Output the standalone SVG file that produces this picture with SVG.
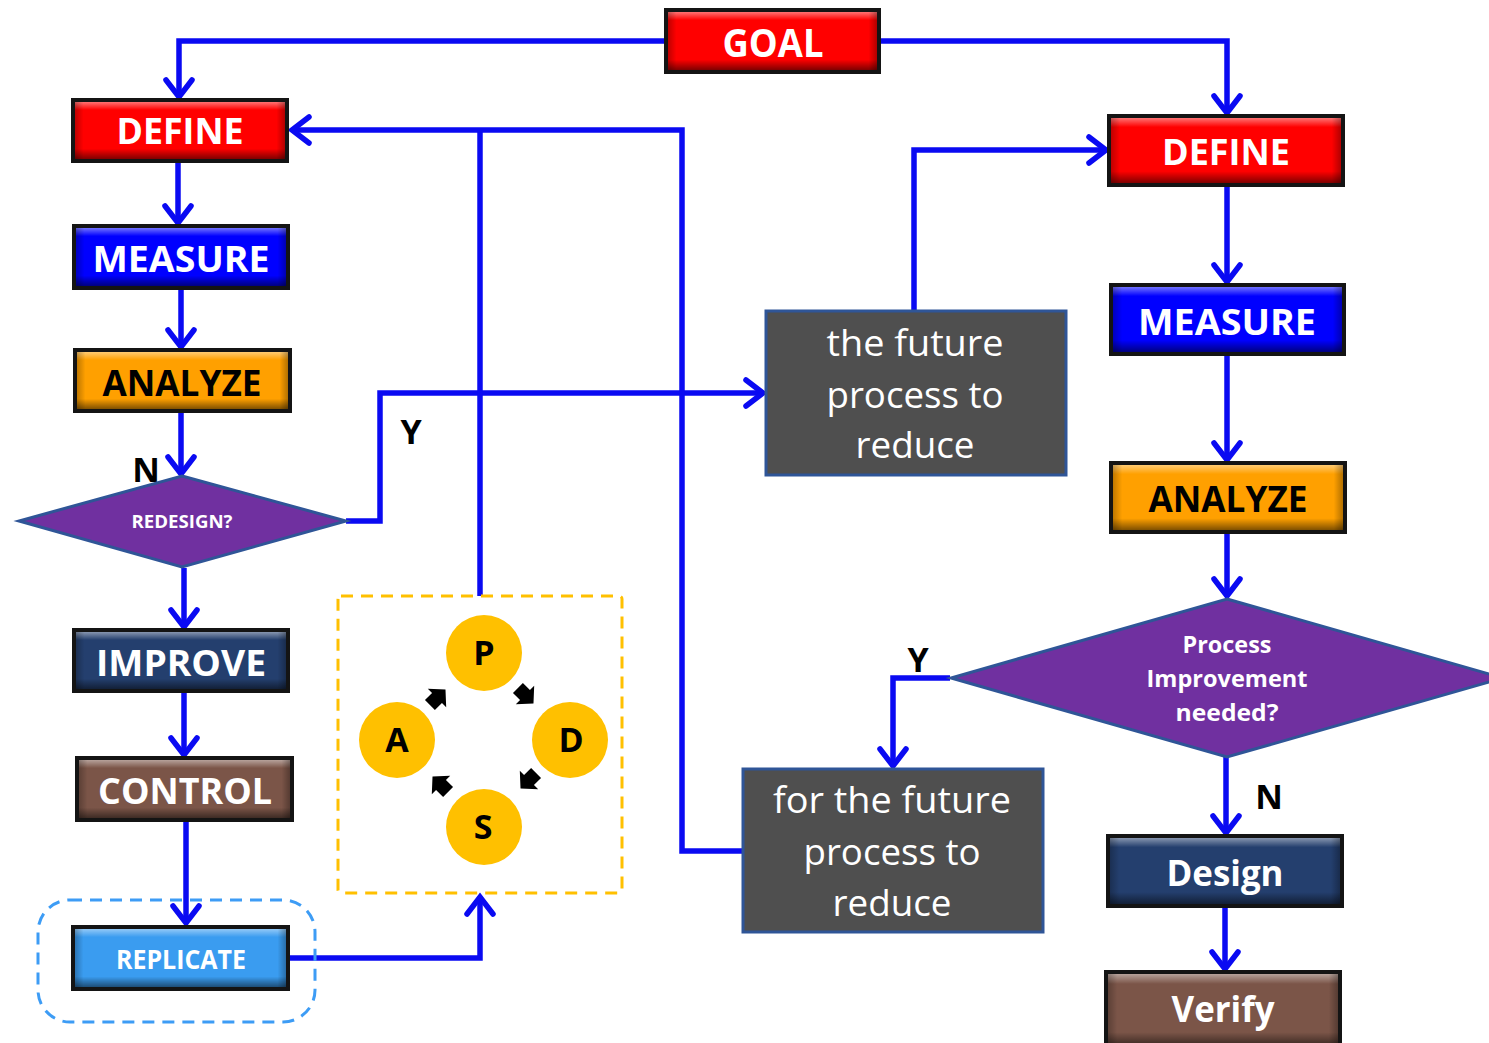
<svg xmlns="http://www.w3.org/2000/svg" width="1489" height="1043" viewBox="0 0 1489 1043">
  <defs>
    <style>
      .frame { stroke: #141414; stroke-width: 4; }
      .lbl { font-family: "Open Sans", "Liberation Sans", sans-serif; font-weight: 700; fill: #ffffff; text-anchor: middle; }
      .plain { font-family: "Open Sans", "Liberation Sans", sans-serif; font-weight: 400; fill: #ffffff; text-anchor: middle; font-size: 36px; }
      .yn { font-family: "Open Sans", "Liberation Sans", sans-serif; font-weight: 700; fill: #000000; font-size: 34px; text-anchor: middle; }
      .pdsa { font-family: "Open Sans", "Liberation Sans", sans-serif; font-weight: 700; fill: #000000; font-size: 34px; text-anchor: middle; }
      .wire { fill: none; stroke: #0a0af2; stroke-width: 5.5; stroke-linejoin: miter; }
      .arrow { marker-end: url(#vhead); }
      .diamond { fill: #7030a0; stroke: #2f5597; stroke-width: 3; }
      .grey { fill: #4f4f4f; stroke: #2f5597; stroke-width: 3; }
      .coin { fill: #ffc000; }
    </style>
    <!-- bevel shading laid over each button -->
    <linearGradient id="bevelV" x1="0" y1="0" x2="0" y2="1">
      <stop offset="0" stop-color="#ffffff" stop-opacity="0.45"/>
      <stop offset="0.14" stop-color="#ffffff" stop-opacity="0"/>
      <stop offset="0.82" stop-color="#000000" stop-opacity="0"/>
      <stop offset="1" stop-color="#000000" stop-opacity="0.5"/>
    </linearGradient>
    <linearGradient id="bevelH" x1="0" y1="0" x2="1" y2="0">
      <stop offset="0" stop-color="#000000" stop-opacity="0.25"/>
      <stop offset="0.04" stop-color="#000000" stop-opacity="0"/>
      <stop offset="0.96" stop-color="#000000" stop-opacity="0"/>
      <stop offset="1" stop-color="#000000" stop-opacity="0.3"/>
    </linearGradient>
    <marker id="vhead" markerUnits="userSpaceOnUse" orient="auto" refX="0" refY="0" overflow="visible">
      <path d="M-17,-13 L0,0 L-17,13" fill="none" stroke="#0a0af2" stroke-width="5.5" stroke-linecap="round" stroke-linejoin="miter"/>
    </marker>
    <path id="blk" d="M-10,-7 L0,-7 L0,-13 L12,0 L0,13 L0,7 L-10,7 Z" fill="#000000"/>
  </defs>

  <rect width="1489" height="1043" fill="#ffffff"/>

  <!-- connectors -->
  <g id="connectors">
    <path class="wire arrow" d="M665,41 H179 V97"/>
    <path class="wire arrow" d="M880,41 H1227 V113"/>
    <path class="wire arrow" d="M178,162 V223"/>
    <path class="wire arrow" d="M181,289 V347"/>
    <path class="wire arrow" d="M181,412 V474"/>
    <path class="wire arrow" d="M346,521 H380 V393 H763"/>
    <path class="wire arrow" d="M184,568 V627"/>
    <path class="wire arrow" d="M184,692 V755"/>
    <path class="wire arrow" d="M186,821 V923"/>
    <path class="wire arrow" d="M289,958 H480 V897"/>
    <path class="wire" d="M480,596 V130"/>
    <path class="wire arrow" d="M742,851 H682 V130 H292"/>
    <path class="wire arrow" d="M914,310 V150 H1106"/>
    <path class="wire arrow" d="M1227,186 V282"/>
    <path class="wire arrow" d="M1227,355 V460"/>
    <path class="wire arrow" d="M1227,533 V596"/>
    <path class="wire arrow" d="M950,678 H893 V766"/>
    <path class="wire arrow" d="M1226,745 V833"/>
    <path class="wire arrow" d="M1225,907 V969"/>
  </g>

  <!-- branch labels -->
  <g id="branch-labels">
    <text class="yn" x="411" y="444">Y</text>
    <text class="yn" x="146" y="482">N</text>
    <text class="yn" x="918" y="672">Y</text>
    <text class="yn" x="1269" y="809">N</text>
  </g>

  <!-- GOAL -->
  <g id="goal">
    <rect class="frame" x="666" y="10" width="213" height="62" fill="#ff0000"/>
    <rect x="668" y="12" width="209" height="58" fill="url(#bevelV)"/>
    <rect x="668" y="12" width="209" height="58" fill="url(#bevelH)"/>
    <text class="lbl" x="773" y="57" font-size="40" textLength="101" lengthAdjust="spacingAndGlyphs">GOAL</text>
  </g>

  <!-- left column -->
  <g id="define-left">
    <rect class="frame" x="73" y="100" width="214" height="61" fill="#ff0000"/>
    <rect x="75" y="102" width="210" height="57" fill="url(#bevelV)"/>
    <rect x="75" y="102" width="210" height="57" fill="url(#bevelH)"/>
    <text class="lbl" x="180" y="144" font-size="36" textLength="127" lengthAdjust="spacingAndGlyphs">DEFINE</text>
  </g>
  <g id="measure-left">
    <rect class="frame" x="74" y="226" width="214" height="62" fill="#0000ff"/>
    <rect x="76" y="228" width="210" height="58" fill="url(#bevelV)"/>
    <rect x="76" y="228" width="210" height="58" fill="url(#bevelH)"/>
    <text class="lbl" x="181" y="272" font-size="36" textLength="177" lengthAdjust="spacingAndGlyphs">MEASURE</text>
  </g>
  <g id="analyze-left">
    <rect class="frame" x="75" y="350" width="215" height="61" fill="#ffa000"/>
    <rect x="77" y="352" width="211" height="57" fill="url(#bevelV)"/>
    <rect x="77" y="352" width="211" height="57" fill="url(#bevelH)"/>
    <text class="lbl" x="182" y="396" font-size="36" style="fill:#000000" textLength="159" lengthAdjust="spacingAndGlyphs">ANALYZE</text>
  </g>
  <g id="redesign">
    <polygon class="diamond" points="182,476 346,521 182,567 19,521"/>
    <text class="lbl" x="182" y="528" font-size="17" textLength="101" lengthAdjust="spacingAndGlyphs">REDESIGN?</text>
  </g>
  <g id="improve">
    <rect class="frame" x="74" y="630" width="214" height="61" fill="#243f6e"/>
    <rect x="76" y="632" width="210" height="57" fill="url(#bevelV)"/>
    <rect x="76" y="632" width="210" height="57" fill="url(#bevelH)"/>
    <text class="lbl" x="181" y="676" font-size="36" textLength="170" lengthAdjust="spacingAndGlyphs">IMPROVE</text>
  </g>
  <g id="control">
    <rect class="frame" x="77" y="758" width="215" height="62" fill="#7b5548"/>
    <rect x="79" y="760" width="211" height="58" fill="url(#bevelV)"/>
    <rect x="79" y="760" width="211" height="58" fill="url(#bevelH)"/>
    <text class="lbl" x="185" y="804" font-size="36" textLength="174" lengthAdjust="spacingAndGlyphs">CONTROL</text>
  </g>
  <g id="replicate">
    <rect x="38" y="900" width="277" height="122" rx="32" fill="none" stroke="#3d9cf5" stroke-width="3" stroke-dasharray="12 8"/>
    <rect class="frame" x="73" y="927" width="215" height="62" fill="#3a9cf0"/>
    <rect x="75" y="929" width="211" height="58" fill="url(#bevelV)"/>
    <rect x="75" y="929" width="211" height="58" fill="url(#bevelH)"/>
    <text class="lbl" x="181" y="969" font-size="26" textLength="130" lengthAdjust="spacingAndGlyphs">REPLICATE</text>
  </g>

  <!-- PDSA cycle -->
  <g id="pdsa">
    <rect x="338" y="596" width="284" height="297" rx="3" fill="none" stroke="#ffc000" stroke-width="3" stroke-dasharray="12 8"/>
    <circle class="coin" cx="484" cy="653" r="38"/>
    <circle class="coin" cx="397" cy="740" r="38"/>
    <circle class="coin" cx="570" cy="740" r="38"/>
    <circle class="coin" cx="484" cy="827" r="38"/>
    <text class="pdsa" x="484" y="665">P</text>
    <text class="pdsa" x="397" y="752">A</text>
    <text class="pdsa" x="571" y="752">D</text>
    <text class="pdsa" x="483" y="839">S</text>
    <use href="#blk" transform="translate(525,695) rotate(45)"/>
    <use href="#blk" transform="translate(529,780) rotate(135)"/>
    <use href="#blk" transform="translate(441,785) rotate(225)"/>
    <use href="#blk" transform="translate(437,698) rotate(-45)"/>
  </g>

  <!-- grey note boxes -->
  <g id="note-upper">
    <rect class="grey" x="766" y="311" width="300" height="164"/>
    <text class="plain" x="915" y="356" textLength="177" lengthAdjust="spacingAndGlyphs">the future</text>
    <text class="plain" x="915" y="408" textLength="177" lengthAdjust="spacingAndGlyphs">process to</text>
    <text class="plain" x="915" y="458" textLength="119" lengthAdjust="spacingAndGlyphs">reduce</text>
  </g>
  <g id="note-lower">
    <rect class="grey" x="743" y="769" width="300" height="163"/>
    <text class="plain" x="892" y="813" textLength="238" lengthAdjust="spacingAndGlyphs">for the future</text>
    <text class="plain" x="892" y="865" textLength="177" lengthAdjust="spacingAndGlyphs">process to</text>
    <text class="plain" x="892" y="916" textLength="119" lengthAdjust="spacingAndGlyphs">reduce</text>
  </g>

  <!-- right column -->
  <g id="define-right">
    <rect class="frame" x="1109" y="116" width="234" height="69" fill="#ff0000"/>
    <rect x="1111" y="118" width="230" height="65" fill="url(#bevelV)"/>
    <rect x="1111" y="118" width="230" height="65" fill="url(#bevelH)"/>
    <text class="lbl" x="1226" y="165" font-size="36" textLength="128" lengthAdjust="spacingAndGlyphs">DEFINE</text>
  </g>
  <g id="measure-right">
    <rect class="frame" x="1111" y="285" width="233" height="69" fill="#0000ff"/>
    <rect x="1113" y="287" width="229" height="65" fill="url(#bevelV)"/>
    <rect x="1113" y="287" width="229" height="65" fill="url(#bevelH)"/>
    <text class="lbl" x="1227" y="335" font-size="36" textLength="178" lengthAdjust="spacingAndGlyphs">MEASURE</text>
  </g>
  <g id="analyze-right">
    <rect class="frame" x="1111" y="463" width="234" height="69" fill="#ffa000"/>
    <rect x="1113" y="465" width="230" height="65" fill="url(#bevelV)"/>
    <rect x="1113" y="465" width="230" height="65" fill="url(#bevelH)"/>
    <text class="lbl" x="1228" y="512" font-size="36" style="fill:#000000" textLength="159" lengthAdjust="spacingAndGlyphs">ANALYZE</text>
  </g>
  <g id="improvement-needed">
    <polygon class="diamond" points="1227,599 1503,678 1227,757 951,678"/>
    <text class="lbl" x="1227" y="653" font-size="23" textLength="89" lengthAdjust="spacingAndGlyphs">Process</text>
    <text class="lbl" x="1227" y="687" font-size="23" textLength="161" lengthAdjust="spacingAndGlyphs">Improvement</text>
    <text class="lbl" x="1227" y="721" font-size="23" textLength="103" lengthAdjust="spacingAndGlyphs">needed?</text>
  </g>
  <g id="design">
    <rect class="frame" x="1108" y="836" width="234" height="70" fill="#243f6e"/>
    <rect x="1110" y="838" width="230" height="66" fill="url(#bevelV)"/>
    <rect x="1110" y="838" width="230" height="66" fill="url(#bevelH)"/>
    <text class="lbl" x="1225" y="886" font-size="36" textLength="117" lengthAdjust="spacingAndGlyphs">Design</text>
  </g>
  <g id="verify">
    <rect class="frame" x="1106" y="972" width="234" height="75" fill="#7b5548"/>
    <rect x="1108" y="974" width="230" height="71" fill="url(#bevelV)"/>
    <rect x="1108" y="974" width="230" height="71" fill="url(#bevelH)"/>
    <text class="lbl" x="1223" y="1022" font-size="36" textLength="103" lengthAdjust="spacingAndGlyphs">Verify</text>
  </g>
</svg>
